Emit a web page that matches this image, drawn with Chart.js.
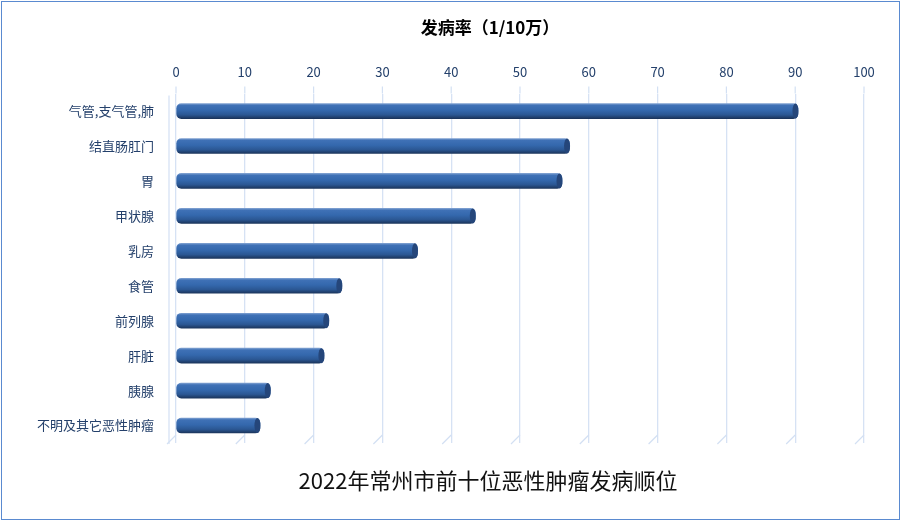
<!DOCTYPE html>
<html>
<head>
<meta charset="utf-8">
<script src="https://cdn.jsdelivr.net/npm/chart.js@4.4.1/dist/chart.umd.min.js"></script>
<style>
  html, body { margin: 0; padding: 0; background: #fff; }
  #wrap { width: 902px; height: 522px; }
</style>
</head>
<body>
<div id="wrap"><canvas id="rank"></canvas></div>
<script>
const categories = ["气管,支气管,肺", "结直肠肛门", "胃", "甲状腺", "乳房", "食管", "前列腺", "肝脏", "胰腺", "不明及其它恶性肿瘤"];
const incidence = [90.4, 57.2, 56.1, 43.5, 35.1, 24.1, 22.2, 21.5, 13.7, 12.2];
const axisTitle = "发病率（1/10万）";
const chartTitle = "2022年常州市前十位恶性肿瘤发病顺位";

const cjk = "'Noto Sans CJK SC', 'Noto Sans', sans-serif";
const narrow = "'Liberation Sans Narrow', 'Noto Sans CJK SC', sans-serif";

// cylinder look: vertical gradient across each bar
function barFill(ctx) {
  const chart = ctx.chart;
  const y = chart.scales.y;
  if (!y || ctx.dataIndex === undefined) return "#3366aa";
  const cy = y.getPixelForValue(ctx.dataIndex);
  if (!isFinite(cy)) return "#3366aa";
  const g = chart.ctx.createLinearGradient(0, cy - 7.5, 0, cy + 7.5);
  g.addColorStop(0, "#7d9fd0");
  g.addColorStop(0.12, "#3f71b6");
  g.addColorStop(0.45, "#3468ad");
  g.addColorStop(0.75, "#2b5793");
  g.addColorStop(1, "#1b355c");
  return g;
}

const framePlugin = {
  id: "frame",
  beforeDraw(chart) {
    const c = chart.ctx;
    c.save();
    c.fillStyle = "#fff";
    c.fillRect(0, 0, chart.width, chart.height);
    c.restore();
  },
  beforeDatasetsDraw(chart) {
    // floor lines + top stubs of the 3D grid
    const c = chart.ctx, x = chart.scales.x, a = chart.chartArea;
    c.save();
    c.strokeStyle = "#d3e0f3";
    c.lineWidth = 1.2;
    x.ticks.forEach((t) => {
      const px = x.getPixelForValue(t.value);
      c.beginPath();
      c.moveTo(px, a.bottom - 8);
      c.lineTo(px - 9, a.bottom + 1);
      c.moveTo(px, a.top);
      c.lineTo(px, a.top - 7);
      c.stroke();
    });
    c.beginPath();
    c.moveTo(a.left - 7, a.top + 2);
    c.lineTo(a.left - 7, a.bottom + 1);
    c.stroke();
    c.restore();
  },
  afterDatasetsDraw(chart) {
    // dark end caps
    const c = chart.ctx;
    const meta = chart.getDatasetMeta(0);
    c.save();
    meta.data.forEach((bar) => {
      c.beginPath();
      c.ellipse(bar.x - 2.5, bar.y, 3, bar.height / 2, 0, 0, Math.PI * 2);
      c.fillStyle = "#25467a";
      c.fill();
    });
    c.restore();
  },
  afterDraw(chart) {
    const c = chart.ctx;
    c.save();
    c.fillStyle = "#000";
    c.textAlign = "center";
    c.textBaseline = "middle";
    c.font = "bold 17px " + cjk;
    c.fillText(axisTitle, 490, 28);
    c.fillStyle = "#111";
    c.font = "22px " + cjk;
    c.fillText(chartTitle, 488, 481);
    c.strokeStyle = "#5a8ad0";
    c.lineWidth = 1;
    c.strokeRect(1.5, 1.5, chart.width - 4, chart.height - 4);
    c.restore();
  }
};

const data = {
  labels: categories,
  datasets: [
    {
      label: axisTitle,
      data: incidence,
      backgroundColor: barFill,
      borderWidth: 0,
      borderRadius: 5,
      borderSkipped: false,
      barThickness: 15,
    },
  ],
};

const config = {
  type: "bar",
  data: data,
  plugins: [framePlugin],
  options: {
    indexAxis: "y",
    responsive: true,
    maintainAspectRatio: false,
    animation: false,
    layout: { padding: { left: 10, right: 38, top: 50, bottom: 79 } },
    plugins: {
      legend: { display: false },
      tooltip: { enabled: false },
    },
    scales: {
      x: {
        position: "top",
        min: 0,
        max: 100,
        ticks: {
          stepSize: 10,
          padding: 14,
          color: "#24406b",
          font: { family: narrow, size: 13 },
        },
        grid: { color: "#d6e2f4", lineWidth: 1.3, drawTicks: false },
        border: { display: false },
      },
      y: {
        afterFit: (s) => { s.width = 166; },
        ticks: {
          padding: 14,
          color: "#24406b",
          font: { family: cjk, size: 13 },
        },
        grid: { display: false },
        border: { display: false },
      },
    },
  },
};

const canvas = document.getElementById("rank");
const chart = new Chart(canvas, config);
</script>
</body>
</html>
